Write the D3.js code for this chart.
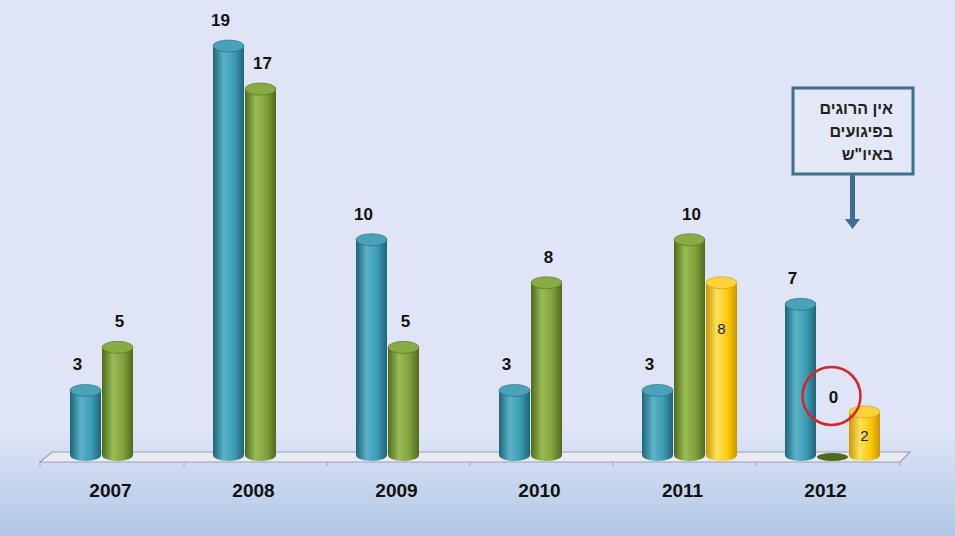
<!DOCTYPE html>
<html><head><meta charset="utf-8">
<script src="https://cdn.jsdelivr.net/npm/d3@7"></script>
<style>body{margin:0;overflow:hidden}</style></head>
<body><svg id="c" width="955" height="536"></svg>
<script>
const years = ["2007","2008","2009","2010","2011","2012"];
const seriesA = [3,19,10,3,3,7];        // teal
const seriesB = [5,17,5,8,10,0];        // green
const seriesC = [null,null,null,null,8,2]; // yellow
const calloutLines = ["אין הרוגים","בפיגועים","באיו\"ש"];

const svg = d3.select("#c");
const defs = svg.append("defs");
const bg = defs.append("linearGradient").attr("id","bg").attr("x1",0).attr("y1",0).attr("x2",0).attr("y2",1);
bg.append("stop").attr("offset","0").attr("stop-color","#dfe4f7");
bg.append("stop").attr("offset","0.8").attr("stop-color","#dfe5f7");
bg.append("stop").attr("offset","1").attr("stop-color","#b0c7e5");
svg.append("rect").attr("width",955).attr("height",536).attr("fill","url(#bg)");

const cols = [
  {id:"a", dark:"#1f6478", mid:"#3a9bb3", light:"#5bb3c8", top:"#4aa2b8", vals:seriesA},
  {id:"b", dark:"#4f6a1c", mid:"#7fa03a", light:"#9abb55", top:"#8aab44", vals:seriesB},
  {id:"c", dark:"#c99800", mid:"#ffc80a", light:"#ffe060", top:"#ffd23a", vals:seriesC}
];
cols.forEach(c=>{
  const g = defs.append("linearGradient").attr("id","g"+c.id);
  g.append("stop").attr("offset","0").attr("stop-color",c.dark);
  g.append("stop").attr("offset","0.35").attr("stop-color",c.light);
  g.append("stop").attr("offset","0.7").attr("stop-color",c.mid);
  g.append("stop").attr("offset","1").attr("stop-color",c.dark);
});

const x0 = d3.scaleBand().domain(years).range([41,899]).paddingInner(0).paddingOuter(0);
const x1 = d3.scaleBand().domain([0,1,2]).range([x0.bandwidth()/2-43, x0.bandwidth()/2+53]);
const y = d3.scaleLinear().domain([0,19]).range([455,46]);

// floor
svg.append("path").attr("d","M40,462 L900,462 L910,452 L52,452 Z").attr("fill","#e9ecf6").attr("stroke","#9aa0ad").attr("stroke-width",1.2);
years.forEach((yr,i)=>{ if(i>0){const xx=x0(yr); svg.append("line").attr("x1",xx).attr("x2",xx).attr("y1",462).attr("y2",466).attr("stroke","#9aa0ad");}});
svg.append("line").attr("x1",40).attr("x2",40).attr("y1",462).attr("y2",466).attr("stroke","#9aa0ad");
svg.append("line").attr("x1",900).attr("x2",900).attr("y1",462).attr("y2",466).attr("stroke","#9aa0ad");

const w = 31, ry = 6;
years.forEach((yr,i)=>{
  cols.forEach((c,j)=>{
    const v = c.vals[i];
    if(v===null) return;
    const cx = x0(yr)+x1(j)+x1.bandwidth()/2;
    const yt = y(v), yb = y(0);
    const g = svg.append("g");
    if(v===0){
      g.append("ellipse").attr("cx",cx).attr("cy",yb+2).attr("rx",w/2).attr("ry",ry-2).attr("fill",c.dark);
      return;
    }
    g.append("path").attr("d",`M${cx-w/2},${yt} L${cx-w/2},${yb} A${w/2},${ry} 0 0 0 ${cx+w/2},${yb} L${cx+w/2},${yt} Z`).attr("fill",`url(#g${c.id})`);
    g.append("ellipse").attr("cx",cx).attr("cy",yt).attr("rx",w/2).attr("ry",ry).attr("fill",c.top).attr("stroke",c.dark).attr("stroke-width",0.6);
    if(c.id==="c"){
      g.append("text").attr("x",cx).attr("y",(yt+yb)/2+(v>4?-35:8)).attr("text-anchor","middle")
        .attr("font-family","Liberation Sans, Arial").attr("font-size",15).attr("fill","#222").text(v);
    } else {
      const lx = cx - (j===0?8:-2);
      g.append("text").attr("x",lx).attr("y",yt-20).attr("text-anchor","middle")
        .attr("font-family","Liberation Sans, Arial").attr("font-weight","bold").attr("font-size",17).attr("fill","#111").text(v);
    }
  });
  svg.append("text").attr("x",x0(yr)+x0.bandwidth()/2-2).attr("y",497).attr("text-anchor","middle")
    .attr("font-family","Liberation Sans, Arial").attr("font-weight","bold").attr("font-size",19).attr("fill","#111").text(yr);
});

// zero label and red circle
const cz = x0("2012")+x1(1)+x1.bandwidth()/2;
svg.append("text").attr("x",cz+1).attr("y",403).attr("text-anchor","middle").attr("font-family","Liberation Sans, Arial").attr("font-weight","bold").attr("font-size",17).attr("fill","#111").text(seriesB[5]);
svg.append("circle").attr("cx",cz-1).attr("cy",396).attr("r",29).attr("fill","none").attr("stroke","#d8232a").attr("stroke-width",2.5);

// callout
svg.append("rect").attr("x",793).attr("y",88).attr("width",120).attr("height",86).attr("fill","#e3e8f6").attr("stroke","#3d6e92").attr("stroke-width",3);
calloutLines.forEach((t,k)=>svg.append("text").attr("x",893).attr("y",114+k*23).attr("text-anchor","start").attr("direction","rtl")
  .attr("font-family","Liberation Sans, Arial").attr("font-weight","bold").attr("font-size",16).attr("fill","#222").text(t));
svg.append("rect").attr("x",850).attr("y",175).attr("width",5).attr("height",44).attr("fill","#3d6e92");
svg.append("path").attr("d","M845,219 L860,219 L852.5,229 Z").attr("fill","#3d6e92");
</script></body></html>
